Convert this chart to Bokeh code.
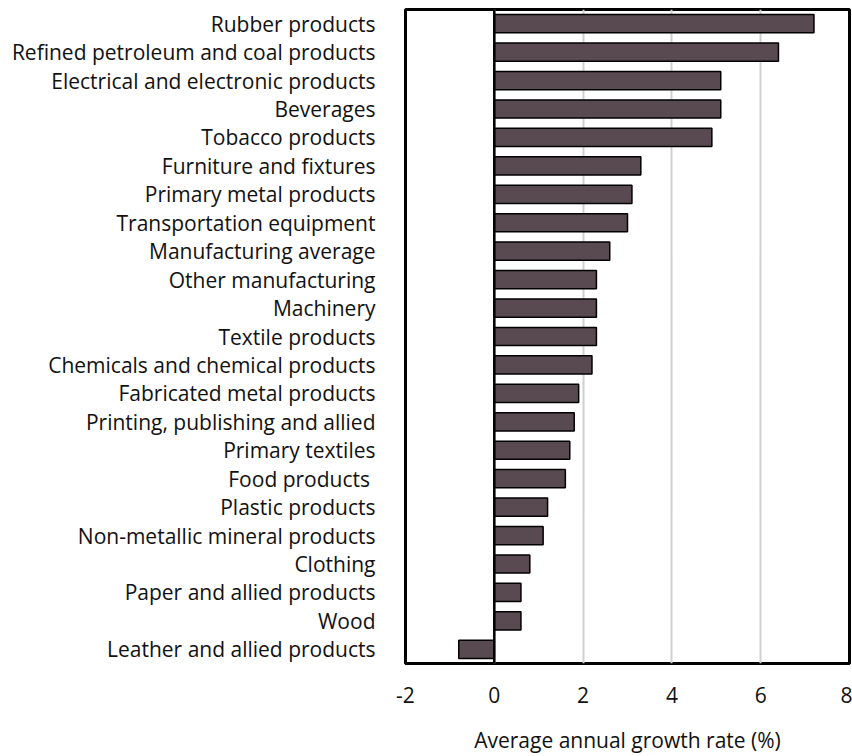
from bokeh.plotting import figure
from bokeh.models import FactorRange, Range1d, Span, FixedTicker, ColumnDataSource
from bokeh.embed import file_html
from bokeh.resources import INLINE

categories = [
    "Rubber products",
    "Refined petroleum and coal products",
    "Electrical and electronic products",
    "Beverages",
    "Tobacco products",
    "Furniture and fixtures",
    "Primary metal products",
    "Transportation equipment",
    "Manufacturing average",
    "Other manufacturing",
    "Machinery",
    "Textile products",
    "Chemicals and chemical products",
    "Fabricated metal products",
    "Printing, publishing and allied",
    "Primary textiles",
    "Food products ",
    "Plastic products",
    "Non-metallic mineral products",
    "Clothing",
    "Paper and allied products",
    "Wood",
    "Leather and allied products",
]
growth = [7.2, 6.4, 5.1, 5.1, 4.9, 3.3, 3.1, 3.0, 2.6, 2.3, 2.3, 2.3, 2.2,
          1.9, 1.8, 1.7, 1.6, 1.2, 1.1, 0.8, 0.6, 0.6, -0.8]
x_ticks = [-2, 0, 2, 4, 6, 8]
x_tick_labels = ["-2", "0", "2", "4", "6", "8"]

FONT = "Open Sans"
FS = "21px"

src = ColumnDataSource(dict(cat=categories, val=growth))

p = figure(
    width=852, height=756,
    y_range=FactorRange(factors=list(reversed(categories)), range_padding=0),
    x_range=Range1d(-2, 8),
    output_backend="svg", toolbar_location=None,
    min_border_left=405, min_border_right=3, min_border_top=9, min_border_bottom=89,
)
p.hbar(y="cat", left=0, right="val", height=0.64, source=src,
       fill_color="#594950", line_color="#000000", line_width=1.5)

p.add_layout(Span(location=0, dimension="height", line_color="black", line_width=2.5))

p.outline_line_color = "black"
p.outline_line_width = 3

p.ygrid.grid_line_color = None
p.xgrid.grid_line_color = "#d0d0d0"
p.xgrid.grid_line_width = 2
p.xgrid.ticker = FixedTicker(ticks=x_ticks)

p.xaxis.ticker = FixedTicker(ticks=x_ticks)
p.xaxis.major_label_overrides = {t: s for t, s in zip(x_ticks, x_tick_labels)}
p.xaxis.axis_line_color = None
p.xaxis.major_tick_line_color = None
p.xaxis.minor_tick_line_color = None
p.xaxis.major_label_text_font = FONT
p.xaxis.major_label_text_font_size = FS
p.xaxis.major_label_text_color = "#111111"
p.xaxis.major_label_standoff = 17
p.xaxis.axis_label = "Average annual growth rate (%)"
p.xaxis.axis_label_text_font = FONT
p.xaxis.axis_label_text_font_size = FS
p.xaxis.axis_label_text_font_style = "normal"
p.xaxis.axis_label_text_color = "#111111"
p.xaxis.axis_label_standoff = 20

p.yaxis.axis_line_color = None
p.yaxis.major_tick_line_color = None
p.yaxis.minor_tick_line_color = None
p.yaxis.major_label_text_font = FONT
p.yaxis.major_label_text_font_size = FS
p.yaxis.major_label_text_color = "#111111"
p.yaxis.major_label_standoff = 24

open("out.html", "w").write(file_html(p, INLINE))
